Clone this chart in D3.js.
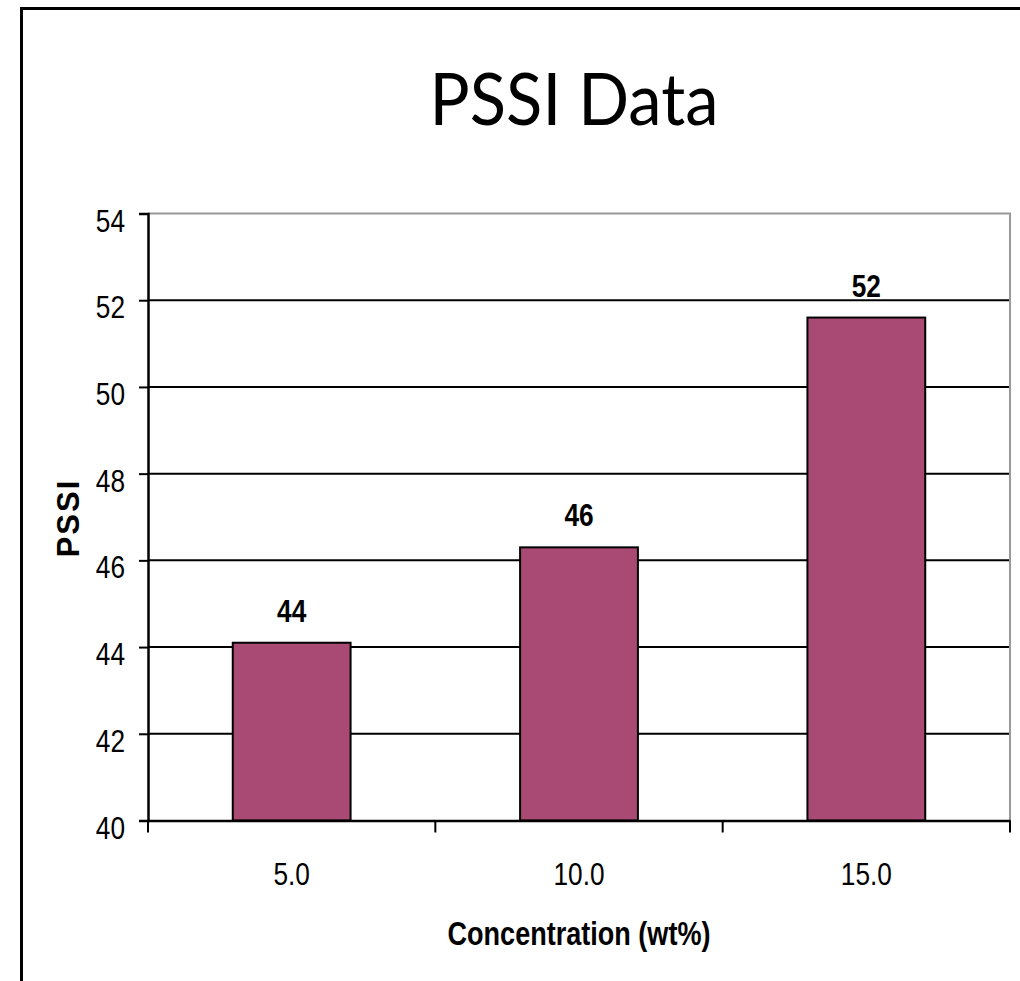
<!DOCTYPE html>
<html>
<head>
<meta charset="utf-8">
<script src="https://cdn.jsdelivr.net/npm/d3@7"></script>
<style>
  html, body { margin: 0; padding: 0; background: #fff; overflow: hidden; }
  svg { display: block; }
</style>
</head>
<body>
<svg id="chart" width="1020" height="981"></svg>
<script>
// PSSI by polymer concentration
const categories = ["5.0", "10.0", "15.0"];
const pssiValues = [44.1, 46.3, 51.6];
const yTicks = [40, 42, 44, 46, 48, 50, 52, 54];

const titleText = "PSSI Data";
const xTitle = "Concentration (wt%)";
const yTitle = "PSSI";

const sans = "'Liberation Sans', Arial, sans-serif";
const barColor = "#A84A74";
const NARROW = 0.82; // horizontal squeeze giving a narrow face

// condense a text element horizontally, keeping its anchor point
function squeeze(sel, k = NARROW) {
  sel.each(function () {
    const t = d3.select(this);
    const x0 = +t.attr("x") || 0;
    t.attr("x", x0 / k).attr("transform", `scale(${k},1)`);
  });
}

const svg = d3.select("#chart");

// slide frame
svg.append("rect")
  .attr("x", 21.5).attr("y", 8.5)
  .attr("width", 1200).attr("height", 1200)
  .attr("fill", "none").attr("stroke", "#000").attr("stroke-width", 3);

// title
svg.append("text")
  .attr("x", 574).attr("y", 125)
  .attr("text-anchor", "middle")
  .style("font-family", "Lato, 'Open Sans', sans-serif")
  .style("font-size", "72px")
  .style("fill", "#000")
  .text(titleText)
  .call(squeeze, 0.93);

const plot = { left: 148, right: 1010, top: 213.5, bottom: 820.5 };

const x = d3.scaleBand().domain(categories).range([plot.left, plot.right]).padding(0);
const y = d3.scaleLinear().domain([40, 54]).range([plot.bottom, plot.top]);

const g = svg.append("g");

// horizontal gridlines
g.selectAll("line.grid")
  .data(yTicks.filter(t => t > 40 && t < 54))
  .join("line")
  .attr("class", "grid")
  .attr("x1", plot.left).attr("x2", plot.right)
  .attr("y1", d => y(d)).attr("y2", d => y(d))
  .attr("stroke", "#000").attr("stroke-width", 2);

// top and right plot border
g.append("path")
  .attr("d", `M${plot.left},${y(54)}H${plot.right}V${plot.bottom}`)
  .attr("fill", "none").attr("stroke", "#999").attr("stroke-width", 2);

// bars
const barW = x.bandwidth() * 0.41;
g.selectAll("rect.bar")
  .data(pssiValues)
  .join("rect")
  .attr("class", "bar")
  .attr("x", (d, i) => x(categories[i]) + (x.bandwidth() - barW) / 2)
  .attr("y", d => y(d))
  .attr("width", barW)
  .attr("height", d => y(40) - y(d))
  .attr("fill", barColor)
  .attr("stroke", "#000").attr("stroke-width", 2);

// value labels
const fmt = d3.format(".0f");
g.selectAll("text.val")
  .data(pssiValues)
  .join("text")
  .attr("class", "val")
  .attr("x", (d, i) => x(categories[i]) + x.bandwidth() / 2)
  .attr("y", d => y(d) - 21)
  .attr("text-anchor", "middle")
  .style("font-family", sans)
  .style("font-weight", "bold")
  .style("font-size", "32px")
  .text(d => fmt(d))
  .call(squeeze);

// y axis
const yAxis = d3.axisLeft(y).tickValues(yTicks).tickSize(9).tickPadding(14).tickFormat(d3.format("d"));
const ya = svg.append("g").attr("transform", `translate(${plot.left},0)`).call(yAxis);
ya.select(".domain").attr("stroke", "#000").attr("stroke-width", 2.5);
ya.selectAll(".tick line").attr("stroke", "#000").attr("stroke-width", 2);
ya.selectAll(".tick text")
  .attr("dy", "0.55em")
  .style("font-family", sans)
  .style("font-size", "32px")
  .style("fill", "#000")
  .call(squeeze);

// x axis with ticks at category boundaries
const xAxis = d3.axisBottom(x).tickSize(0).tickPadding(42);
const xa = svg.append("g").attr("transform", `translate(0,${plot.bottom})`).call(xAxis);
xa.select(".domain").attr("stroke", "#000").attr("stroke-width", 2.5);
xa.selectAll(".tick text")
  .style("font-family", sans)
  .style("font-size", "32px")
  .style("fill", "#000")
  .call(squeeze);
xa.selectAll("line.bound")
  .data([...categories.map(c => x(c)), plot.right])
  .join("line")
  .attr("class", "bound")
  .attr("x1", d => d).attr("x2", d => d)
  .attr("y1", 0).attr("y2", 12)
  .attr("stroke", "#000").attr("stroke-width", 2);

// axis titles
svg.append("text")
  .attr("x", 579).attr("y", 945)
  .attr("text-anchor", "middle")
  .style("font-family", sans)
  .style("font-weight", "bold")
  .style("font-size", "33px")
  .text(xTitle)
  .call(squeeze);

svg.append("text")
  .attr("transform", "translate(79,518) rotate(-90)")
  .attr("text-anchor", "middle")
  .style("font-family", sans)
  .style("font-weight", "bold")
  .style("font-size", "31px")
  .style("letter-spacing", "2px")
  .text(yTitle);
</script>
</body>
</html>
